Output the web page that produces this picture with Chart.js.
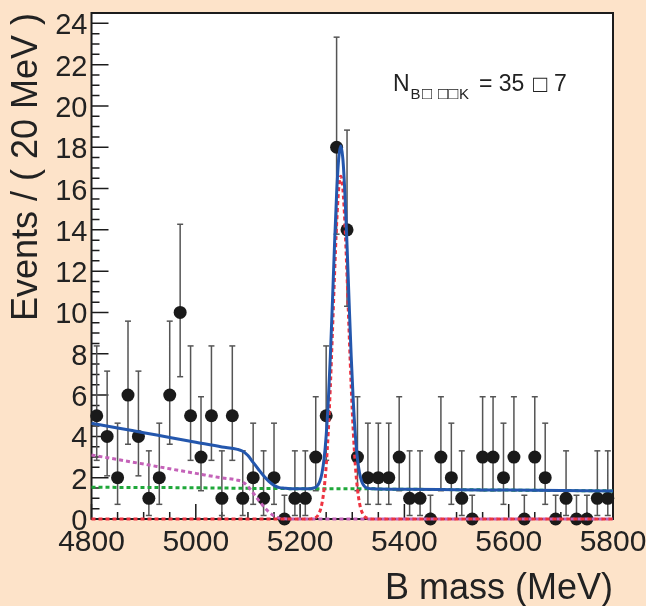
<!DOCTYPE html>
<html>
<head>
<meta charset="utf-8">
<script src="https://cdn.jsdelivr.net/npm/chart.js@4.4.0/dist/chart.umd.min.js"></script>
<style>
  html, body { margin: 0; padding: 0; background: #fde3c9; }
  canvas { display: block; }
</style>
</head>
<body>
<canvas id="myChart" width="646" height="606"></canvas>
<script>
// binned data, 20 MeV bins
const binCenters = [4810, 4830, 4850, 4870, 4890, 4910, 4930, 4950, 4970, 4990,
  5010, 5030, 5050, 5070, 5090, 5110, 5130, 5150, 5170, 5190,
  5210, 5230, 5250, 5270, 5290, 5310, 5330, 5350, 5370, 5390,
  5410, 5430, 5450, 5470, 5490, 5510, 5530, 5550, 5570, 5590,
  5610, 5630, 5650, 5670, 5690, 5710, 5730, 5750, 5770, 5790];
const eventCounts = [5, 4, 2, 6, 4, 1, 2, 6, 10, 5,
  3, 5, 1, 5, 1, 2, 1, 2, 0, 1,
  1, 3, 5, 18, 14, 3, 2, 2, 2, 3,
  1, 1, 0, 3, 2, 1, 0, 3, 3, 2,
  3, 0, 3, 2, 0, 1, 0, 0, 1, 1];

// asymmetric (poisson) error bar ends, by count
const errCounts = [0, 1, 2, 3, 4, 5, 6, 10, 14, 18];
const errLow = [0, 0.17, 0.71, 1.37, 2.09, 2.84, 3.62, 6.89, 10.30, 13.79];
const errHigh = [1.15, 3.30, 4.64, 5.92, 7.16, 8.38, 9.58, 14.27, 18.83, 23.33];

// fit curves, sampled off the plot
const curveMass = [4800, 4850, 4900, 4950, 5000, 5050, 5080, 5090, 5100, 5110,
  5120, 5130, 5140, 5150, 5160, 5170, 5180, 5195, 5206,
  5214, 5218, 5222, 5226, 5230, 5234, 5238, 5242, 5246, 5250,
  5254, 5258, 5262, 5266, 5270, 5274, 5278, 5282, 5286, 5290,
  5294, 5298, 5302, 5306, 5310, 5314, 5318, 5322, 5326, 5330,
  5334, 5338, 5342,
  5350, 5400, 5500, 5600, 5700, 5800];
const totalCurve = [4.64, 4.41, 4.18, 3.95, 3.72, 3.49, 3.37, 3.28, 3.07, 2.74,
  2.41, 2.09, 1.82, 1.63, 1.52, 1.49, 1.47, 1.47, 1.47,
  1.47, 1.47, 1.48, 1.50, 1.54, 1.64, 1.84, 2.23, 2.92, 4.04,
  5.69, 7.88, 10.50, 13.26, 15.73, 17.45, 18.07, 17.44, 15.72, 13.25,
  10.49, 7.87, 5.68, 4.03, 2.91, 2.22, 1.83, 1.63, 1.53, 1.49,
  1.47, 1.46, 1.46,
  1.45, 1.44, 1.42, 1.40, 1.38, 1.36];
const signalCurve = [0, 0, 0, 0, 0, 0, 0, 0, 0, 0,
  0, 0, 0, 0, 0, 0, 0, 0, 0,
  0, 0, 0.01, 0.03, 0.07, 0.17, 0.37, 0.76, 1.45, 2.57,
  4.22, 6.41, 9.03, 11.79, 14.26, 15.98, 16.60, 15.98, 14.26, 11.79,
  9.03, 6.41, 4.22, 2.57, 1.45, 0.76, 0.37, 0.17, 0.07, 0.03,
  0.01, 0, 0,
  0, 0, 0, 0, 0, 0];
const partRecoCurve = [3.10, 2.88, 2.66, 2.43, 2.21, 1.99, 1.88, 1.79, 1.58, 1.26,
  0.93, 0.61, 0.34, 0.15, 0.04, 0.01, 0, 0, 0,
  0, 0, 0, 0, 0, 0, 0, 0, 0, 0,
  0, 0, 0, 0, 0, 0, 0, 0, 0, 0,
  0, 0, 0, 0, 0, 0, 0, 0, 0, 0,
  0, 0, 0,
  0, 0, 0, 0, 0, 0];
const combCurve = [1.54, 1.53, 1.52, 1.52, 1.51, 1.50, 1.49, 1.49, 1.49, 1.48,
  1.48, 1.48, 1.48, 1.48, 1.48, 1.48, 1.47, 1.47, 1.47,
  1.47, 1.47, 1.47, 1.47, 1.47, 1.47, 1.47, 1.47, 1.47, 1.47,
  1.47, 1.47, 1.47, 1.47, 1.47, 1.47, 1.47, 1.46, 1.46, 1.46,
  1.46, 1.46, 1.46, 1.46, 1.46, 1.46, 1.46, 1.46, 1.46, 1.46,
  1.46, 1.46, 1.46,
  1.45, 1.44, 1.42, 1.40, 1.38, 1.36];

const xTicks = [4800, 5000, 5200, 5400, 5600, 5800];
const yTicks = [0, 2, 4, 6, 8, 10, 12, 14, 16, 18, 20, 22, 24];

const curve = vals => curveMass.map((m, i) => ({ x: m, y: vals[i] }));

const errorBars = [];
binCenters.forEach((m, i) => {
  const k = errCounts.indexOf(eventCounts[i]);
  errorBars.push({ x: m, y: errLow[k] }, { x: m, y: errHigh[k] }, { x: m, y: null });
});

const ink = '#222222';
Chart.defaults.font.family = "'Liberation Sans', Arial, sans-serif";
Chart.defaults.color = ink;

// ROOT-like frame: white pad, ticks pointing inwards, fit result label
const rootFrame = {
  id: 'rootFrame',
  beforeDraw(chart) {
    const { ctx, chartArea: a } = chart;
    ctx.save();
    ctx.fillStyle = '#ffffff';
    ctx.fillRect(a.left, a.top, a.right - a.left, a.bottom - a.top);
    ctx.restore();
  },
  beforeDatasetsDraw(chart) {
    const { ctx, chartArea: a, scales: { x, y } } = chart;
    ctx.save();
    ctx.strokeStyle = '#1c1c1c';
    ctx.lineWidth = 1.5;
    ctx.beginPath();
    for (let v = x.min; v <= x.max + 0.01; v += 50) {
      const px = x.getPixelForValue(v);
      const len = (v - x.min) % 200 === 0 ? 15 : 7;
      ctx.moveTo(px, a.bottom);
      ctx.lineTo(px, a.bottom - len);
    }
    for (let v = 0; v <= 24.01; v += 0.5) {
      const py = y.getPixelForValue(v);
      const len = v % 2 === 0 ? 17 : 8;
      ctx.moveTo(a.left, py);
      ctx.lineTo(a.left + len, py);
    }
    ctx.stroke();
    ctx.lineWidth = 2;
    ctx.strokeRect(a.left, a.top, a.right - a.left, a.bottom - a.top);
    ctx.restore();
  },
  afterDraw(chart) {
    const { ctx } = chart;
    const fam = "'Liberation Sans', Arial, sans-serif";
    ctx.save();
    ctx.fillStyle = ink;
    ctx.textBaseline = 'alphabetic';
    ctx.font = '23px ' + fam;
    ctx.fillText('N', 393, 91);
    ctx.font = '15px ' + fam;
    ctx.fillText('B', 410.5, 98.5);
    ctx.fillText('K', 459, 98.5);
    ctx.font = '17px ' + fam;
    ctx.fillText('\u25A1', 422, 99);
    ctx.fillText('\u25A1\u25A1', 438, 99);
    ctx.font = '23px ' + fam;
    ctx.fillText('= 35', 479, 91);
    ctx.font = '24px ' + fam;
    ctx.fillText('\u25A1', 533, 92);
    ctx.font = '23px ' + fam;
    ctx.fillText('7', 554, 91);
    ctx.restore();
  }
};

const ctx = document.getElementById('myChart');

new Chart(ctx, {
  type: 'line',
  data: {
    datasets: [
      { label: 'total fit', data: curve(totalCurve), borderColor: '#2457ad', borderWidth: 3,
        pointRadius: 0, cubicInterpolationMode: 'monotone', clip: false },
      { label: 'signal', data: curve(signalCurve), borderColor: '#ee3340', borderWidth: 3,
        borderDash: [4, 3], pointRadius: 0, cubicInterpolationMode: 'monotone', clip: false },
      { label: 'partially reconstructed', data: curve(partRecoCurve), borderColor: '#c462b8', borderWidth: 3,
        borderDash: [4, 3], pointRadius: 0, cubicInterpolationMode: 'monotone', clip: false },
      { label: 'combinatorial', data: curve(combCurve), borderColor: '#1fa83a', borderWidth: 3,
        borderDash: [4, 3], pointRadius: 0, cubicInterpolationMode: 'monotone', clip: false },
      { label: 'data', data: binCenters.map((m, i) => ({ x: m, y: eventCounts[i] })), showLine: false,
        pointRadius: 6.5, pointBackgroundColor: '#1a1a1a', pointBorderColor: '#1a1a1a', pointBorderWidth: 0, clip: false },
      { label: 'errors', data: errorBars, borderColor: '#555555', borderWidth: 1.5, spanGaps: false,
        pointStyle: 'line', pointRadius: 3, pointBorderColor: '#555555', pointBorderWidth: 1.5, clip: false }
    ]
  },
  options: {
    responsive: false,
    animation: false,
    layout: { padding: { top: 13, right: 33, left: 0, bottom: 0 } },
    plugins: { legend: { display: false }, tooltip: { enabled: false } },
    scales: {
      x: {
        type: 'linear', min: 4800, max: 5800,
        afterBuildTicks: s => { s.ticks = xTicks.map(v => ({ value: v })); },
        afterFit: s => { s.height = 87; s.paddingLeft = 0; s.paddingRight = 0; },
        grid: { display: false, drawTicks: false },
        border: { display: false },
        ticks: { font: { size: 30 }, color: ink, padding: 6, maxRotation: 0, autoSkip: false,
          callback: v => String(v) },
        title: { display: true, text: 'B mass (MeV)', align: 'end', color: ink,
          font: { size: 36, lineHeight: 0.95 }, padding: { top: 0, bottom: 0 } }
      },
      y: {
        type: 'linear', min: 0, max: 24.5,
        afterBuildTicks: s => { s.ticks = yTicks.map(v => ({ value: v })); },
        afterFit: s => { s.width = 91.5; s.paddingTop = 0; s.paddingBottom = 0; },
        grid: { display: false, drawTicks: false },
        border: { display: false },
        ticks: { font: { size: 29 }, color: ink, padding: 4, labelOffset: 3, autoSkip: false,
          callback: v => String(v) },
        title: { display: true, text: 'Events / ( 20 MeV )', align: 'end', color: ink,
          font: { size: 36, lineHeight: 0.95 }, padding: { top: 10, bottom: 0 } }
      }
    }
  },
  plugins: [rootFrame]
});
</script>
</body>
</html>
